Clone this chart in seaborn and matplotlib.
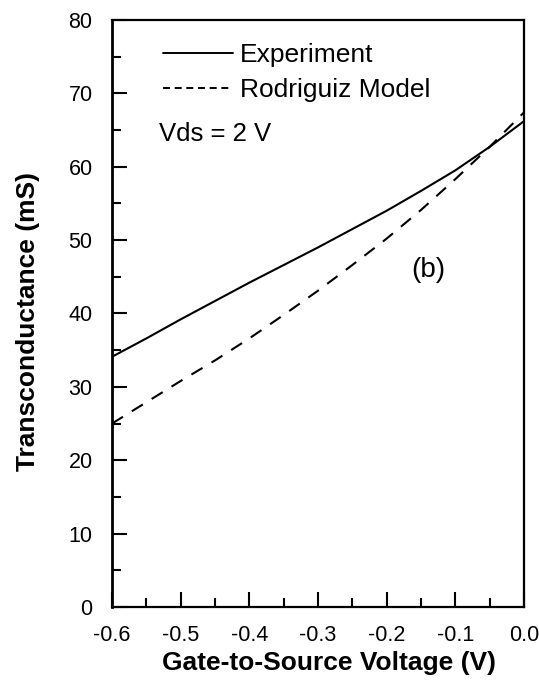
import matplotlib
matplotlib.use("Agg")
import matplotlib.pyplot as plt
from matplotlib.ticker import MultipleLocator, FormatStrFormatter
from matplotlib.lines import Line2D
import pandas as pd
import seaborn as sns

# Gate-to-source voltage (V)
vgs = [-0.60, -0.55, -0.50, -0.45, -0.40, -0.35, -0.30,
       -0.25, -0.20, -0.15, -0.10, -0.05, 0.00]
# Measured transconductance (mS)
gm_experiment = [34.1, 36.6, 39.2, 41.7, 44.2, 46.6, 49.0,
                 51.5, 54.0, 56.7, 59.5, 62.7, 66.2]
# Rodriguiz model transconductance (mS)
gm_model = [25.0, 27.9, 30.8, 33.6, 36.6, 39.8, 43.1,
            46.6, 50.2, 54.1, 58.3, 62.7, 67.4]

series_names = ["Experiment", "Rodriguiz Model"]

df = pd.concat([
    pd.DataFrame({"Vgs": vgs, "gm": gm_experiment, "series": series_names[0]}),
    pd.DataFrame({"Vgs": vgs, "gm": gm_model, "series": series_names[1]}),
])

sns.set_theme(style="ticks")
plt.rcParams["font.family"] = ["Liberation Sans", "DejaVu Sans"]
plt.rcParams.update({"text.color": "black", "axes.labelcolor": "black",
                     "xtick.color": "black", "ytick.color": "black"})

fig = plt.figure(figsize=(5.39, 6.82), dpi=100)
ax = fig.add_axes([0.2078, 0.110, 0.7642, 0.8607])

sns.lineplot(data=df, x="Vgs", y="gm", hue="series", style="series",
             palette=["black", "black"],
             dashes={series_names[0]: "", series_names[1]: (6.2, 5.0)},
             linewidth=1.5, legend=False, ax=ax)

ax.set_xlim(-0.6, 0.0)
ax.set_ylim(0, 80)
ax.xaxis.set_major_locator(MultipleLocator(0.1))
ax.xaxis.set_minor_locator(MultipleLocator(0.05))
ax.yaxis.set_major_locator(MultipleLocator(10))
ax.yaxis.set_minor_locator(MultipleLocator(5))
ax.xaxis.set_major_formatter(FormatStrFormatter("%.1f"))

ax.tick_params(axis="both", which="major", direction="in", length=11,
               width=1.5, labelsize=15.5, color="black", labelcolor="black")
ax.tick_params(axis="both", which="minor", direction="in", length=6.5,
               width=1.5, color="black")
ax.tick_params(axis="x", which="major", pad=13)
ax.tick_params(axis="y", which="major", pad=14)
ax.tick_params(top=False, right=False, which="both")

for side, sp in ax.spines.items():
    sp.set_visible(True)
    sp.set_color("black")
    sp.set_linewidth(1.6)
ax.spines["left"].set_linewidth(2.0)

ax.set_xlabel("Gate-to-Source Voltage (V)", fontsize=19, fontweight="bold")
ax.set_ylabel("Transconductance (mS)", fontsize=19, fontweight="bold")
ax.xaxis.set_label_coords(0.527, -0.075)
ax.yaxis.set_label_coords(-0.175, 0.487)

# Hand-drawn style key in the upper left
trans = ax.transAxes
ax.add_line(Line2D([0.123, 0.293], [0.943, 0.943], transform=trans,
                   color="black", linewidth=1.4))
ax.add_line(Line2D([0.123, 0.293], [0.884, 0.884], transform=trans,
                   color="black", linewidth=1.4, dashes=(3.6, 2.4)))
ax.text(0.311, 0.929, "Experiment", transform=trans, fontsize=19,
        va="baseline", ha="left")
ax.text(0.311, 0.868, "Rodriguiz Model", transform=trans, fontsize=19,
        va="baseline", ha="left")
ax.text(0.114, 0.793, "Vds = 2 V", transform=trans, fontsize=18.5,
        va="baseline", ha="left")
ax.text(0.767, 0.574, "(b)", transform=trans, fontsize=20,
        va="center", ha="center")

fig.savefig("out.png", dpi=100, facecolor="white")
